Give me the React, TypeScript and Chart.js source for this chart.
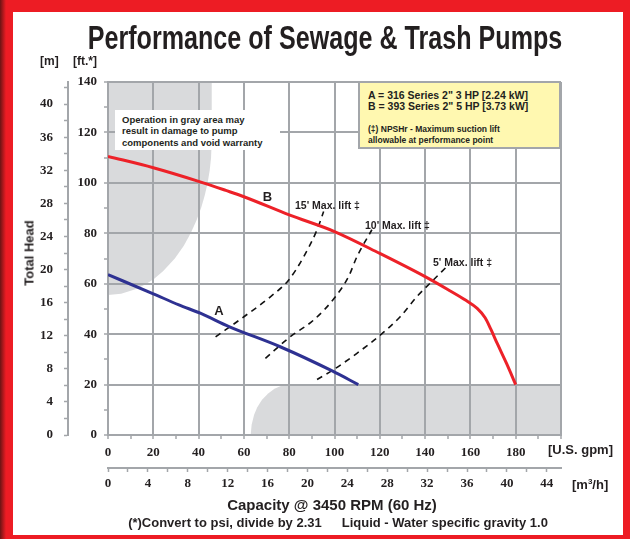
import React, { useEffect, useLayoutEffect, useRef, useState } from 'react';
import { Chart, registerables } from 'chart.js';

Chart.register(...registerables);

// ---- data ----
const FT_PER_M = 3.28084;
const GPM_PER_M3H = 4.40287;

const gpmLabels = [0, 20, 40, 60, 80, 100, 120, 140, 160, 180];
const m3hLabels = [0, 4, 8, 12, 16, 20, 24, 28, 32, 36, 40, 44];
const ftLabels = [0, 20, 40, 60, 80, 100, 120, 140];
const mLabels = [0, 4, 8, 12, 16, 20, 24, 28, 32, 36, 40];

const curveA_gpm = [0, 20, 31.3, 41, 53.4, 76, 99, 110.5];
const curveA_ft = [63.6, 56, 51.6, 48.2, 43, 35, 25.4, 20];

const curveB_gpm = [0, 20, 40, 52, 60, 80, 100, 120, 140, 150, 158, 163, 166.5, 169, 172, 176, 180];
const curveB_ft = [110.5, 106, 100.6, 97, 94.5, 87.3, 80.7, 72, 62.8, 57.7, 53.4, 50.2, 46.5, 42, 36, 28.3, 20];

const lift15_gpm = [47.5, 60, 71.7, 79.8, 86.4, 92.3, 95.2];
const lift15_ft = [38.9, 46.9, 54.8, 61.5, 70.7, 81.4, 88.6];

const lift10_gpm = [69.5, 80.5, 90.8, 100.4, 106.2, 109.9, 116.5];
const lift10_ft = [30.4, 39, 45.6, 54.8, 62.8, 70.7, 81.4];

const lift5_gpm = [92.3, 100.4, 109.9, 120.2, 129, 136.3, 142.2, 149.6];
const lift5_ft = [22, 26.4, 32.4, 39.6, 46.9, 54.8, 60.2, 66.8];

// gray "do not operate" regions (boundary points, gpm / ft)
const grayTL_gpm = [0, 45.8, 45.8, 45.5, 44.9, 44, 42.7, 41.1, 39, 36.5, 33.4, 29.5, 24.4, 20.4, 17, 12.8, 5.8, 0];
const grayTL_ft = [140, 140, 117, 110, 105, 100, 95, 90, 85, 80, 75, 70, 65, 62, 60, 58, 56, 55.5];
const grayBR_gpm = [63, 63.4, 64.5, 65.9, 68, 70.7, 73.5, 76.3, 78.8, 80.6, 200, 200];
const grayBR_ft = [0, 4, 8, 11, 14, 16.5, 18.3, 19.4, 19.9, 20, 20, 0];

const GRID = '#a3a6aa';
const GRAY = '#d9dadc';
const TXT = '#231f20';
const RED = '#ed2128';
const BLUE = '#2e3192';

const pts = (xs: number[], ys: number[]) => xs.map((x, i) => ({ x, y: ys[i] }));

const grayPlugin = {
  id: 'grayAreas',
  beforeDraw(chart: any) {
    const { ctx, chartArea, scales } = chart;
    const x = scales.x;
    const y = scales.y;
    ctx.save();
    ctx.beginPath();
    ctx.rect(chartArea.left, chartArea.top, chartArea.right - chartArea.left, chartArea.bottom - chartArea.top);
    ctx.clip();
    ctx.fillStyle = GRAY;
    const regions: [number[], number[]][] = [
      [grayTL_gpm, grayTL_ft],
      [grayBR_gpm, grayBR_ft],
    ];
    for (const [xs, ys] of regions) {
      ctx.beginPath();
      xs.forEach((v, i) => {
        const px = x.getPixelForValue(v);
        const py = y.getPixelForValue(ys[i]);
        if (i === 0) ctx.moveTo(px, py);
        else ctx.lineTo(px, py);
      });
      ctx.closePath();
      ctx.fill();
    }
    ctx.restore();
  },
};

const tickFont = { family: '"Liberation Serif", "DejaVu Serif", serif', size: 13, weight: 'bold' as const };

const sans = '"Liberation Sans", Arial, Helvetica, sans-serif';

function ChartCanvas() {
  const ref = useRef<HTMLCanvasElement | null>(null);
  useEffect(() => {
    if (!ref.current) return;
    const lineDs = (xs: number[], ys: number[], color: string, width: number, dash: number[] = []) => ({
      data: pts(xs, ys),
      borderColor: color,
      borderWidth: width,
      borderDash: dash,
      pointRadius: 0,
      cubicInterpolationMode: 'monotone',
      xAxisID: 'x',
      yAxisID: 'y',
    });
    const chart = new Chart(ref.current, {
      type: 'line',
      data: {
        datasets: [
          lineDs(curveB_gpm, curveB_ft, RED, 3),
          lineDs(curveA_gpm, curveA_ft, BLUE, 3),
          lineDs(lift15_gpm, lift15_ft, '#111', 1.6, [6, 5]),
          lineDs(lift10_gpm, lift10_ft, '#111', 1.6, [6, 5]),
          lineDs(lift5_gpm, lift5_ft, '#111', 1.6, [6, 5]),
        ],
      },
      options: {
        responsive: false,
        animation: false,
        events: [],
        layout: { padding: { left: 20, top: 82, right: 69, bottom: 41 } },
        plugins: { legend: { display: false }, tooltip: { enabled: false } },
        scales: {
          x: {
            type: 'linear',
            position: 'bottom',
            weight: 0,
            min: 0,
            max: 200,
            ticks: {
              stepSize: 10,
              autoSkip: false,
              maxRotation: 0,
              padding: 6,
              color: TXT,
              font: tickFont,
              callback: (v: any) => (gpmLabels.includes(Math.round(Number(v))) && Math.abs(v - Math.round(v)) < 1e-6 ? String(Math.round(v)) : ''),
            },
            grid: {
              color: (c: any) => (c.tick && Math.round(c.tick.value) % 20 === 0 ? GRID : 'rgba(0,0,0,0)'),
              lineWidth: 2,
              tickLength: 4,
              tickColor: GRID,
              tickWidth: 1.5,
            },
            border: { display: true, color: GRID, width: 2 },
            afterFit: (s: any) => {
              s.height = 33;
            },
          },
          x2: {
            type: 'linear',
            position: 'bottom',
            weight: 1,
            min: 0,
            max: 200 / GPM_PER_M3H,
            ticks: {
              stepSize: 2,
              autoSkip: false,
              includeBounds: false,
              maxRotation: 0,
              padding: 4,
              color: TXT,
              font: tickFont,
              callback: (v: any) => (m3hLabels.includes(Math.round(Number(v))) && Math.abs(v - Math.round(v)) < 1e-6 ? String(Math.round(v)) : ''),
            },
            grid: { drawOnChartArea: false, tickLength: 4, color: GRID, tickColor: GRID, tickWidth: 1.5 },
            border: { display: true, color: GRID, width: 2 },
            afterFit: (s: any) => {
              s.height = 30;
            },
          },
          y: {
            type: 'linear',
            position: 'left',
            weight: 0,
            min: 0,
            max: 140,
            ticks: {
              stepSize: 10,
              autoSkip: false,
              padding: 7,
              color: TXT,
              font: tickFont,
              callback: (v: any) => (ftLabels.includes(Math.round(Number(v))) ? String(Math.round(v)) : ''),
            },
            grid: {
              color: (c: any) => (c.tick && Math.round(c.tick.value) % 20 === 0 ? GRID : 'rgba(0,0,0,0)'),
              lineWidth: 2,
              tickLength: 4,
              tickColor: GRID,
              tickWidth: 1.5,
            },
            border: { display: true, color: GRID, width: 2 },
            afterFit: (s: any) => {
              s.width = 40;
            },
          },
          y2: {
            type: 'linear',
            position: 'left',
            weight: 1,
            min: 0,
            max: 140 / FT_PER_M,
            ticks: {
              stepSize: 2,
              autoSkip: false,
              includeBounds: false,
              padding: 11,
              color: TXT,
              font: tickFont,
              callback: (v: any) => (mLabels.includes(Math.round(Number(v))) && Math.abs(v - Math.round(v)) < 1e-6 ? String(Math.round(v)) : ''),
            },
            grid: { drawOnChartArea: false, tickLength: 4, color: GRID, tickColor: GRID, tickWidth: 1.5 },
            border: { display: true, color: GRID, width: 2 },
            afterFit: (s: any) => {
              s.width = 48;
            },
          },
        },
      } as any,
      plugins: [grayPlugin],
    });
    return () => chart.destroy();
  }, []);
  return (
    <canvas
      ref={ref}
      width={630}
      height={539}
      style={{ position: 'absolute', left: 0, top: 0, width: 630, height: 539, display: 'block' }}
    />
  );
}

const abs = (left: number, top: number, extra: React.CSSProperties = {}): React.CSSProperties => ({
  position: 'absolute',
  left,
  top,
  fontFamily: sans,
  fontWeight: 'bold',
  color: TXT,
  whiteSpace: 'nowrap',
  lineHeight: 1,
  ...extra,
});

function Title() {
  const ref = useRef<HTMLDivElement | null>(null);
  const [sx, setSx] = useState(0.76);
  useLayoutEffect(() => {
    if (ref.current) {
      const w = ref.current.offsetWidth;
      if (w > 0) setSx(475 / w);
    }
  }, []);
  return (
    <div
      ref={ref}
      style={abs(0, 0, {
        left: 324.5,
        top: 36.5,
        fontSize: 33,
        fontWeight: 900,
        transform: `translate(-50%, -50%) scaleX(${sx})`,
      })}
    >
      Performance of Sewage &amp; Trash Pumps
    </div>
  );
}

export default function App() {
  return (
    <div style={{ position: 'fixed', left: 0, top: 0, width: 630, height: 539, background: '#ed1c24', overflow: 'hidden' }}>
      <div style={{ position: 'absolute', left: 0, top: 0, width: 6, height: 539, background: 'linear-gradient(to right, #6b1414, #ed1c24)' }} />
      <div style={{ position: 'absolute', left: 13, top: 12, width: 610, height: 523, background: '#ffffff' }} />
      <ChartCanvas />

      <Title />

      {/* axis unit headers */}
      <div style={abs(40, 61, { fontSize: 12, transform: 'translateY(-50%)' })}>[m]</div>
      <div style={abs(73, 61, { fontSize: 12, transform: 'translateY(-50%)' })}>[ft.*]</div>
      <div style={abs(28.5, 253, { fontSize: 13, transform: 'translate(-50%, -50%) rotate(-90deg)' })}>Total Head</div>
      <div style={abs(548, 449, { fontSize: 13, transform: 'translateY(-50%)' })}>[U.S. gpm]</div>
      <div style={abs(572, 484, { fontSize: 13, transform: 'translateY(-50%)' })}>
        [m<span style={{ fontSize: 8, verticalAlign: '5px' }}>3</span>/h]
      </div>
      <div style={abs(332, 504, { fontSize: 15, transform: 'translate(-50%, -50%)' })}>Capacity @ 3450 RPM (60 Hz)</div>
      <div style={abs(338, 522, { fontSize: 13, transform: 'translate(-50%, -50%)' })}>
        (*)Convert to psi, divide by 2.31<span style={{ display: 'inline-block', width: 20 }} />Liquid - Water specific gravity 1.0
      </div>

      {/* gray area note */}
      <div style={{ position: 'absolute', left: 115, top: 110, width: 165, height: 40, background: '#ffffff' }} />
      <div style={abs(122, 113.5, { fontSize: 9.5, lineHeight: '11.7px' })}>
        Operation in gray area may
        <br />
        result in damage to pump
        <br />
        components and void warranty
      </div>

      {/* legend box */}
      <div
        style={{
          position: 'absolute',
          left: 358,
          top: 81,
          width: 203,
          height: 68,
          boxSizing: 'border-box',
          background: '#fff8b0',
          border: `2px solid ${GRID}`,
        }}
      />
      <div style={abs(368, 95, { fontSize: 10.5, transform: 'translateY(-50%)' })}>A = 316 Series 2" 3 HP [2.24 kW]</div>
      <div style={abs(368, 105.5, { fontSize: 10.5, transform: 'translateY(-50%)' })}>B = 393 Series 2" 5 HP [3.73 kW]</div>
      <div style={abs(368, 129, { fontSize: 8.5, transform: 'translateY(-50%)' })}>(‡) NPSHr - Maximum suction lift</div>
      <div style={abs(368, 139.5, { fontSize: 8.5, transform: 'translateY(-50%)' })}>allowable at performance point</div>

      {/* curve labels */}
      <div style={abs(267.5, 196, { fontSize: 13, transform: 'translate(-50%, -50%)' })}>B</div>
      <div style={abs(219, 310, { fontSize: 13, transform: 'translate(-50%, -50%)' })}>A</div>
      <div style={abs(295, 205, { fontSize: 10.5, transform: 'translateY(-50%)' })}>15' Max. lift ‡</div>
      <div style={abs(365, 225, { fontSize: 10.5, transform: 'translateY(-50%)' })}>10' Max. lift ‡</div>
      <div style={abs(433, 262, { fontSize: 10.5, transform: 'translateY(-50%)' })}>5' Max. lift ‡</div>
    </div>
  );
}
